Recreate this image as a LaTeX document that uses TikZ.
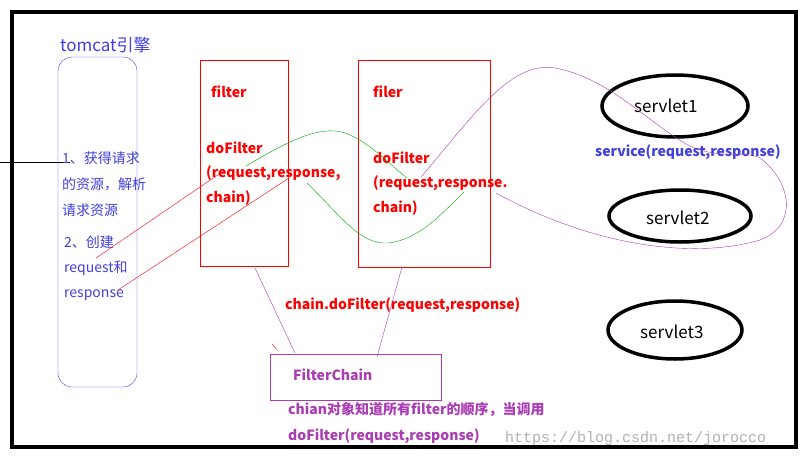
\documentclass[tikz,border=0pt]{standalone}
\usepackage{fontspec}
\usetikzlibrary{shapes.geometric}
\setmainfont{Noto Sans CJK SC}
\newfontfamily\mono{Liberation Mono}
\definecolor{bblue}{RGB}{64,64,224}
\definecolor{ppur}{RGB}{170,60,180}
\begin{document}
\begin{tikzpicture}[x=1pt,y=-1pt,
  t/.style={anchor=west,inner sep=0pt,font=\fontsize{14}{14}\selectfont},
  rb/.style={t,text=red,font=\fontsize{14}{14}\selectfont\bfseries},
  bl/.style={t,text=bblue},
  pb/.style={t,text=ppur,font=\fontsize{14}{14}\selectfont\bfseries},
  ell/.style={draw,line width=3.5pt,ellipse},
  pur/.style={draw=ppur,thin}]
\useasboundingbox (0,0) rectangle (808,460);
\fill[white] (0,0) rectangle (808,460);
\draw[line width=3.5pt] (12,12) rectangle (796,447);
\draw[thin] (0,162) -- (70,162);
\draw[bblue,rounded corners=14pt] (58,57) rectangle (137,387);
\node[bl,font=\fontsize{17}{17}\selectfont] (tc) at (60,45) {tomcat引擎};
\node[bl] (a1) at (62,158) {1、获得请求};
\node[bl] (a2) at (62,184) {的资源，解析};
\node[bl] (a3) at (62,210) {请求资源};
\node[bl] (b1) at (64,242) {2、创建};
\node[bl] (b2) at (64,268) {request和};
\node[bl] (b3) at (64,295) {response};
\draw[red] (200,60) rectangle (288,266);
\draw[red] (358,60) rectangle (490,267);
\node[rb] (f1) at (211,92) {filter};
\node[rb] (f2) at (206,148) {doFilter};
\node[rb] (f3) at (206,173) {(request,response,};
\node[rb] (f4) at (206,198) {chain)};
\node[rb] (g1) at (373,92) {filer};
\node[rb] (g2) at (373,158) {doFilter};
\node[rb] (g3) at (373,183) {(request,response.};
\node[rb] (g4) at (373,208) {chain)};
\node[rb] (cd) at (285,305) {chain.doFilter(request,response)};
\draw[red] (96,258) -- (225,170);
\draw[red] (118,290) -- (289,178);
\draw[red] (272,344) -- (277,350);
\draw[green!65!black] (246,166) .. controls (290,140) and (320,125) .. (345,133) .. controls (370,142) and (390,165) .. (407,178);
\draw[green!65!black] (307,183) .. controls (340,215) and (360,245) .. (388,243) .. controls (420,240) and (445,210) .. (464,192);
\draw[ppur] (270,354) rectangle (441,400);
\node[pb] (fc) at (293,375) {FilterChain};
\node[pb] (c1) at (288,410) {chian对象知道所有filter的顺序，当调用};
\node[pb] (c2) at (288,436) {doFilter(request,response)};
\draw[pur] (255,268) -- (295,353);
\draw[pur] (402,267) -- (377,357);
\node[ell,minimum width=146pt,minimum height=62pt] (s1) at (675,106) {};
\node[t,font=\fontsize{17}{17}\selectfont] at (634,106) {servlet1};
\node[ell,minimum width=142pt,minimum height=52pt] (s2) at (680,216) {};
\node[t,font=\fontsize{17}{17}\selectfont] at (646,218) {servlet2};
\node[ell,minimum width=134pt,minimum height=58pt] (s3) at (675,330) {};
\node[t,font=\fontsize{17}{17}\selectfont] at (640,332) {servlet3};
\node[t,text=bblue,font=\fontsize{14}{14}\selectfont\bfseries] (sv) at (595,152) {service(request,response)};
\draw[pur] (421,177) .. controls (470,120) and (510,60) .. (555,68) .. controls (610,78) and (650,125) .. (690,146) .. controls (720,160) and (745,150) .. (760,158) .. controls (790,180) and (800,225) .. (760,240) .. controls (700,258) and (600,250) .. (496,193);
\node[t,text=gray!60,font=\mono\fontsize{15}{15}\selectfont] (wm) at (505,439) {https://blog.csdn.net/jorocco};
\end{tikzpicture}
\end{document}
